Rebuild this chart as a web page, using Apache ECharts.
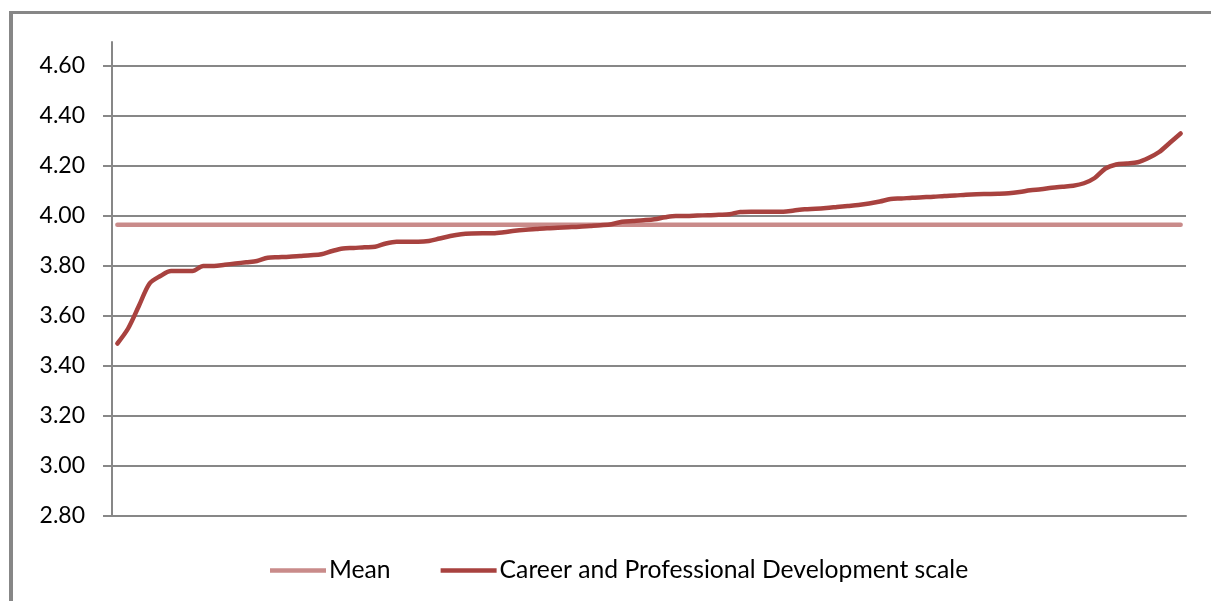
<!DOCTYPE html>
<html>
<head>
<meta charset="utf-8">
<script src="https://cdn.jsdelivr.net/npm/echarts@6/dist/echarts.min.js"></script>
<style>
  html, body { margin: 0; padding: 0; background: #fff; }
  #chart { width: 1211px; height: 601px; }
</style>
</head>
<body>
<div id="chart"></div>
<script>
// Ranked scale scores, lowest to highest
const scaleScores = [
  3.49, 3.55, 3.64, 3.73, 3.76, 3.78, 3.78, 3.78, 3.80, 3.80,
  3.805, 3.81, 3.815, 3.82, 3.833, 3.835, 3.837, 3.84, 3.843, 3.847,
  3.86, 3.87, 3.872, 3.875, 3.877, 3.89, 3.897, 3.897, 3.897, 3.90,
  3.91, 3.92, 3.927, 3.93, 3.931, 3.931, 3.935, 3.941, 3.945, 3.948,
  3.951, 3.953, 3.955, 3.957, 3.96, 3.963, 3.967, 3.977, 3.98, 3.983,
  3.987, 3.995, 4.00, 4.00, 4.002, 4.003, 4.005, 4.007, 4.016, 4.017,
  4.017, 4.017, 4.017, 4.022, 4.027, 4.029, 4.032, 4.036, 4.04, 4.044,
  4.05, 4.058, 4.068, 4.07, 4.073, 4.075, 4.077, 4.08, 4.082, 4.085,
  4.087, 4.088, 4.089, 4.091, 4.096, 4.103, 4.107, 4.113, 4.117, 4.121,
  4.131, 4.152, 4.19, 4.206, 4.21, 4.215, 4.232, 4.256, 4.293, 4.33
];
const meanValue = 3.965;
const categories = scaleScores.map((_, i) => String(i + 1));
const seriesNames = ['Mean', 'Career and Professional Development scale'];
const yMin = 2.8, yMax = 4.6, yStep = 0.2;

const gridGray = '#878787';
const font = 'Lato, "Open Sans", sans-serif';

const chart = echarts.init(document.getElementById('chart'), null, { renderer: 'canvas' });

chart.setOption({
  backgroundColor: '#ffffff',
  animation: false,
  graphic: [
    // outer frame (top and left edges)
    { type: 'rect', shape: { x: 10, y: 11, width: 1220, height: 3 }, style: { fill: gridGray } },
    { type: 'rect', shape: { x: 9, y: 11, width: 4, height: 600 }, style: { fill: gridGray } }
  ],
  legend: {
    left: 265,
    top: 553,
    itemWidth: 56,
    itemHeight: 14,
    itemGap: 50,
    textStyle: { fontFamily: font, fontSize: 24.7, color: '#000', padding: [0, 0, 0, -2] },
    data: seriesNames.map(n => ({ name: n, icon: 'path://M0,0 L56,0 L56,4.5 L0,4.5 Z' }))
  },
  grid: [
    { left: 112, right: 25, top: 66, bottom: 85 },
    { left: 112, right: 25, top: 42, bottom: 85 }
  ],
  xAxis: [
    {
      type: 'category',
      gridIndex: 0,
      data: categories,
      boundaryGap: true,
      axisLine: { show: true, lineStyle: { color: gridGray, width: 2 } },
      axisTick: { show: false },
      axisLabel: { show: false },
      splitLine: { show: false }
    },
    {
      type: 'value',
      gridIndex: 1,
      show: false,
      min: 0,
      max: 1
    }
  ],
  yAxis: [
    {
      type: 'value',
      gridIndex: 0,
      min: yMin,
      max: yMax,
      interval: yStep,
      axisLine: { show: true, lineStyle: { color: gridGray, width: 2 } },
      axisTick: { show: true, length: 9, inside: false, lineStyle: { color: gridGray, width: 2 } },
      axisLabel: {
        margin: 27,
        fontFamily: font,
        fontSize: 23,
        color: '#000',
        formatter: v => v.toFixed(2)
      },
      splitLine: { show: true, lineStyle: { color: gridGray, width: 2 } }
    },
    {
      // axis line continues above the top tick
      type: 'value',
      gridIndex: 1,
      min: 0,
      max: 1,
      axisLine: { show: true, lineStyle: { color: gridGray, width: 2 } },
      axisTick: { show: false },
      axisLabel: { show: false },
      splitLine: { show: false }
    }
  ],
  series: [
    {
      name: seriesNames[0],
      type: 'line',
      xAxisIndex: 0,
      yAxisIndex: 0,
      data: [[0, meanValue], [categories.length - 1, meanValue]],
      showSymbol: false,
      symbol: 'none',
      lineStyle: { color: '#C98B8A', width: 4.5, cap: 'round' },
      itemStyle: { color: '#C98B8A' },
      z: 3
    },
    {
      name: seriesNames[1],
      type: 'line',
      xAxisIndex: 0,
      yAxisIndex: 0,
      data: scaleScores,
      showSymbol: false,
      symbol: 'none',
      smooth: 0.3,
      lineStyle: { color: '#A8423F', width: 4.5, cap: 'round', join: 'round' },
      itemStyle: { color: '#A8423F' },
      z: 4
    }
  ]
});
</script>
</body>
</html>
